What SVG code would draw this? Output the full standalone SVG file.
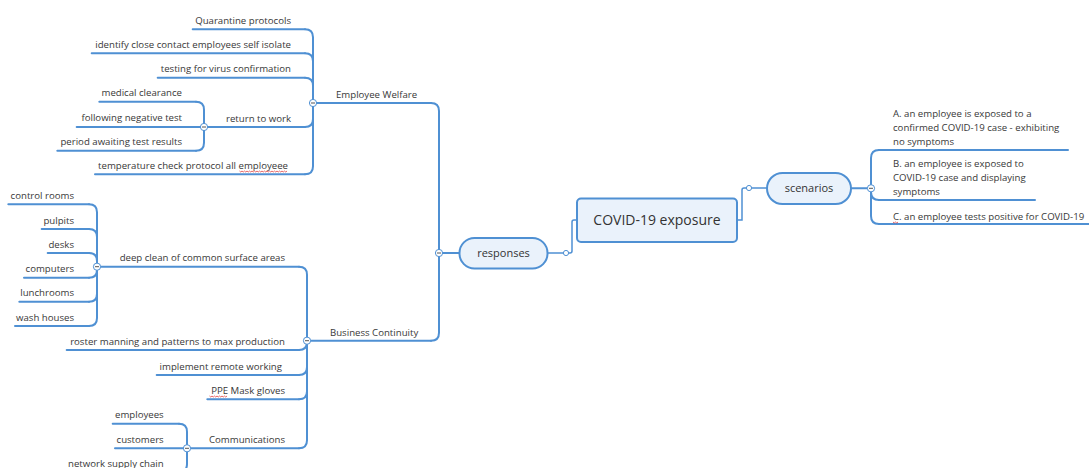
<svg xmlns="http://www.w3.org/2000/svg" width="1089" height="468" viewBox="0 0 1089 468">
<style>
.ln{fill:none;stroke:#4F90D3;stroke-width:2;stroke-linecap:round}
.thin{fill:none;stroke:#4F90D3;stroke-width:1.5}
.t{font-family:"Open Sans","Noto Sans",sans-serif;font-size:9.65px;fill:#383838}
.r{text-anchor:end}
.box{fill:#EAF2FB;stroke:#4F90D3;stroke-width:2}
.big{font-family:"Open Sans","Noto Sans",sans-serif;font-size:14px;fill:#333;text-anchor:middle}
.mid{font-family:"Open Sans","Noto Sans",sans-serif;font-size:11px;fill:#333;text-anchor:middle}
.btn{fill:#fff;stroke:#4F90D3;stroke-width:1}
.minus{stroke:#555;stroke-width:1}
.sq{fill:none;stroke:#E04040;stroke-width:0.8}
</style>
<defs>
<g id="col"><circle class="btn" r="3.6"/><line class="minus" x1="-2" y1="0" x2="2" y2="0"/></g>
</defs>
<rect width="1089" height="468" fill="#fff"/>
<g id="connectors">
<path class="thin" d="M577 220 H574 Q572 220 572 222 V251 Q572 253 570 253 H548"/>
<path class="thin" d="M737 220 H742 V190 Q742 188 744 188 H767"/>
<path class="ln" d="M439 253 V111 Q439 103 431 103"/>
<path class="ln" d="M439 253 V332.7 Q439 340.7 431 340.7"/>
<path class="ln" d="M439 253 H459.5"/>
<path class="ln" d="M313 103 V37.3 Q313 29.3 305 29.3"/>
<path class="ln" d="M313 103 V61.3 Q313 53.3 305 53.3"/>
<path class="ln" d="M313 103 V85.7 Q313 77.7 305 77.7"/>
<path class="ln" d="M313 103 V119 Q313 127 305 127"/>
<path class="ln" d="M313 103 V166.3 Q313 174.3 305 174.3"/>
<path class="ln" d="M204 127 V109.7 Q204 101.7 196 101.7"/>
<path class="ln" d="M204 127 V142.7 Q204 150.7 196 150.7"/>
<path class="ln" d="M307 340.7 V274.7 Q307 266.7 299 266.7"/>
<path class="ln" d="M307 340.7 V342 Q307 350 299 350"/>
<path class="ln" d="M307 340.7 V367 Q307 375 299 375"/>
<path class="ln" d="M307 340.7 V391.3 Q307 399.3 299 399.3"/>
<path class="ln" d="M307 340.7 V440.3 Q307 448.3 299 448.3"/>
<path class="ln" d="M97 266.7 V212.3 Q97 204.3 89 204.3"/>
<path class="ln" d="M97 266.7 V237 Q97 229 89 229"/>
<path class="ln" d="M97 266.7 V261 Q97 253 89 253"/>
<path class="ln" d="M97 266.7 V269.7 Q97 277.7 89 277.7"/>
<path class="ln" d="M97 266.7 V293.7 Q97 301.7 89 301.7"/>
<path class="ln" d="M97 266.7 V318 Q97 326 89 326"/>
<path class="ln" d="M187 448.3 V431.7 Q187 423.7 179 423.7"/>
<path class="ln" d="M187 448.3 V464 Q187 472 179 472"/>
<path class="ln" d="M851 188.3 H871"/>
<path class="ln" d="M871 188.3 V158 Q871 150 879 150"/>
<path class="ln" d="M871 188.3 V192 Q871 200 879 200"/>
<path class="ln" d="M871 188.3 V216 Q871 224 879 224"/>
</g>
<g id="node-central"><rect class="box" x="577" y="198.5" width="160" height="43.5" rx="4"/><text class="big" x="657" y="225">COVID-19 exposure</text></g>
<g id="node-responses"><rect class="box" x="459.5" y="238" width="88" height="30.5" rx="15"/><text class="mid" x="503.5" y="257">responses</text><circle class="btn" cx="566" cy="253" r="2.6"/><use href="#col" x="439" y="253"/></g>
<g id="node-scenarios"><rect class="box" x="767" y="173" width="84" height="31" rx="15.5"/><text class="mid" x="809" y="192">scenarios</text><circle class="btn" cx="749" cy="188" r="2.6"/><use href="#col" x="871" y="188.3"/></g>
<g id="node-scenA"><line class="ln" x1="879" y1="150" x2="1068" y2="150"/><text class="t" x="893" y="117">A. an employee is exposed to a</text><text class="t" x="893" y="131">confirmed COVID-19 case - exhibiting</text><text class="t" x="893" y="145">no symptoms</text></g>
<g id="node-scenB"><line class="ln" x1="879" y1="200" x2="1035" y2="200"/><text class="t" x="893" y="167">B. an employee is exposed to</text><text class="t" x="893" y="181">COVID-19 case and displaying</text><text class="t" x="893" y="195">symptoms</text></g>
<g id="node-scenC"><line class="ln" x1="879" y1="224" x2="1092" y2="224"/><text class="t" x="893" y="219.5">C. an employee tests positive for COVID-19</text><path class="sq" d="M893 222 l1.25 1 l1.25 -1 l1.25 1 l1.25 -1"/></g>
<g id="node-welfare"><line class="ln" x1="313" y1="103" x2="431" y2="103"/><text class="t" x="336" y="97.5">Employee Welfare</text><use href="#col" x="313" y="103"/></g>
<g id="node-quarantine"><line class="ln" x1="192.7" y1="29.3" x2="305" y2="29.3"/><text class="t r" x="291" y="24">Quarantine protocols</text></g>
<g id="node-identify"><line class="ln" x1="91.7" y1="53.3" x2="305" y2="53.3"/><text class="t r" x="291" y="48">identify close contact employees self isolate</text></g>
<g id="node-testing"><line class="ln" x1="157.7" y1="77.7" x2="305" y2="77.7"/><text class="t r" x="291" y="72.3">testing for virus confirmation</text></g>
<g id="node-return"><line class="ln" x1="204" y1="127" x2="305" y2="127"/><text class="t r" x="291" y="121.5">return to work</text><use href="#col" x="204" y="127"/></g>
<g id="node-medical"><line class="ln" x1="99.3" y1="101.7" x2="196" y2="101.7"/><text class="t r" x="182" y="96.3">medical clearance</text></g>
<g id="node-negative"><line class="ln" x1="76.7" y1="127" x2="200" y2="127"/><text class="t r" x="182" y="121">following negative test</text></g>
<g id="node-period"><line class="ln" x1="57.3" y1="150.7" x2="196" y2="150.7"/><text class="t r" x="182" y="145.3">period awaiting test results</text></g>
<g id="node-temperature"><line class="ln" x1="95" y1="174.3" x2="305" y2="174.3"/><text class="t r" x="288" y="168.8">temperature check protocol all employeee</text><path class="sq" d="M239.5 171 l1.25 1 l1.25 -1 l1.25 1 l1.25 -1 l1.25 1 l1.25 -1 l1.25 1 l1.25 -1 l1.25 1 l1.25 -1 l1.25 1 l1.25 -1 l1.25 1 l1.25 -1 l1.25 1 l1.25 -1 l1.25 1 l1.25 -1 l1.25 1 l1.25 -1 l1.25 1 l1.25 -1 l1.25 1 l1.25 -1 l1.25 1 l1.25 -1 l1.25 1 l1.25 -1 l1.25 1 l1.25 -1 l1.25 1 l1.25 -1 l1.25 1 l1.25 -1 l1.25 1 l1.25 -1 l1.25 1 l1.25 -1"/></g>
<g id="node-continuity"><line class="ln" x1="307" y1="340.7" x2="431" y2="340.7"/><text class="t" x="330" y="335.5">Business Continuity</text><use href="#col" x="307" y="340.7"/></g>
<g id="node-deepclean"><line class="ln" x1="97" y1="266.7" x2="299" y2="266.7"/><text class="t r" x="285" y="261">deep clean of common surface areas</text><use href="#col" x="97" y="266.7"/></g>
<g id="node-control"><line class="ln" x1="8.3" y1="204.3" x2="89" y2="204.3"/><text class="t r" x="74" y="199">control rooms</text></g>
<g id="node-pulpits"><line class="ln" x1="41.7" y1="229" x2="89" y2="229"/><text class="t r" x="74" y="223.5">pulpits</text></g>
<g id="node-desks"><line class="ln" x1="47.7" y1="253" x2="89" y2="253"/><text class="t r" x="74" y="247.5">desks</text></g>
<g id="node-computers"><line class="ln" x1="24" y1="277.7" x2="89" y2="277.7"/><text class="t r" x="74" y="272.2">computers</text></g>
<g id="node-lunchrooms"><line class="ln" x1="19.3" y1="301.7" x2="89" y2="301.7"/><text class="t r" x="74" y="296.2">lunchrooms</text></g>
<g id="node-wash"><line class="ln" x1="15" y1="326" x2="89" y2="326"/><text class="t r" x="74" y="320.5">wash houses</text></g>
<g id="node-roster"><line class="ln" x1="66.7" y1="350" x2="299" y2="350"/><text class="t r" x="285" y="344.5">roster manning and patterns to max production</text></g>
<g id="node-remote"><line class="ln" x1="156.7" y1="375" x2="299" y2="375"/><text class="t r" x="282" y="369.5">implement remote working</text></g>
<g id="node-ppe"><line class="ln" x1="207.3" y1="399.3" x2="299" y2="399.3"/><text class="t r" x="285" y="393.8">PPE Mask gloves</text><path class="sq" d="M209.5 396 l1.25 1 l1.25 -1 l1.25 1 l1.25 -1 l1.25 1 l1.25 -1 l1.25 1 l1.25 -1 l1.25 1 l1.25 -1 l1.25 1 l1.25 -1 l1.25 1 l1.25 -1"/></g>
<g id="node-comm"><line class="ln" x1="187" y1="448.3" x2="299" y2="448.3"/><text class="t r" x="285" y="443">Communications</text><use href="#col" x="187" y="448.3"/></g>
<g id="node-employees"><line class="ln" x1="112.7" y1="423.7" x2="179" y2="423.7"/><text class="t r" x="163.7" y="418.2">employees</text></g>
<g id="node-customers"><line class="ln" x1="115" y1="448.3" x2="183" y2="448.3"/><text class="t r" x="163.7" y="442.5">customers</text></g>
<g id="node-network"><line class="ln" x1="66" y1="472" x2="179" y2="472"/><text class="t r" x="163.7" y="466.5">network supply chain</text></g>
</svg>
